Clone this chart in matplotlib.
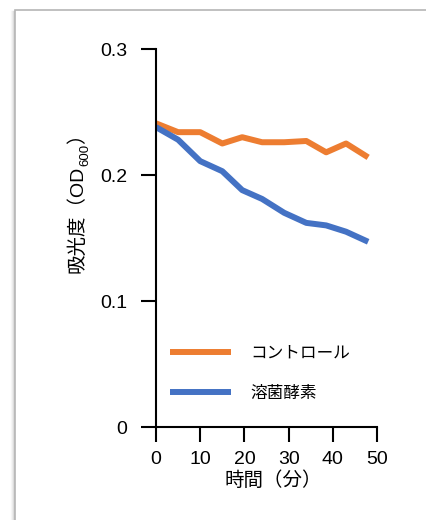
import matplotlib
matplotlib.use("Agg")
import matplotlib.pyplot as plt
from matplotlib.patches import Rectangle
from matplotlib.transforms import offset_copy

plt.rcParams['font.family'] = ['Liberation Sans', 'Noto Sans CJK JP']

# data
minutes = [0, 5, 10, 15, 19.5, 24, 29, 34, 38.5, 43, 48]
control = [0.241, 0.234, 0.234, 0.225, 0.230, 0.226, 0.226, 0.227, 0.218, 0.225, 0.214]
lysozyme = [0.238, 0.228, 0.211, 0.203, 0.188, 0.181, 0.170, 0.162, 0.160, 0.155, 0.147]
series_names = ['コントロール', '溶菌酵素']
series_colors = ['#ED7D31', '#4472C4']
x_ticks = [0, 10, 20, 30, 40, 50]
y_ticks = [0, 0.1, 0.2, 0.3]
y_tick_labels = ['0', '0.1', '0.2', '0.3']
x_title = '時間（分）'
y_title_parts = ['吸光度（OD', '600', '）']

fig = plt.figure(figsize=(4.26, 5.20), dpi=100)

# card frame with a soft shadow on the left (drawn below the axes)
x0 = 15 / 426
y_top = 1 - 10 / 520
for i, a in enumerate([0.35, 0.2, 0.1, 0.05]):
    fig.add_artist(plt.Line2D([x0 - (i + 1) / 426] * 2, [0, y_top - 0.002],
                              color='gray', alpha=a, lw=1, zorder=-10))
fig.add_artist(Rectangle((x0, -0.01), 1.1, y_top + 0.01, transform=fig.transFigure,
                         facecolor='white', edgecolor='#b5b5b5', lw=1.2, zorder=-9))

ax = fig.add_axes([156 / 426, 93 / 520, 221 / 426, 378 / 520])
ax.set_facecolor('none')

for vals, name, col in zip([control, lysozyme], series_names, series_colors):
    ax.plot(minutes, vals, color=col, lw=4.3, label=name, solid_capstyle='butt',
            solid_joinstyle='round')

ax.set_xlim(0, 50)
ax.set_ylim(0, 0.3)
ax.set_xticks(x_ticks)
ax.set_yticks(y_ticks)
ax.set_yticklabels(y_tick_labels)
ax.spines['top'].set_visible(False)
ax.spines['right'].set_visible(False)
for s in ['left', 'bottom']:
    ax.spines[s].set_linewidth(1.5)
ax.tick_params(axis='both', direction='out', length=10.5, width=1.5, labelsize=14)
ax.tick_params(axis='y', pad=10)
ax.tick_params(axis='x', pad=7)

ax.set_xlabel(x_title, fontsize=14)
ax.xaxis.set_label_coords(0.53, -0.117)

# y title with a subscript, built from rotated pieces
fig.canvas.draw()
renderer = fig.canvas.get_renderer()
base_x, base_y = 83, 520 - 273   # pixel position of the start of the baseline
sizes = [14, 9.5, 14]
shifts = [0, 5, 0]
offset = 0
for part, fs, sh in zip(y_title_parts, sizes, shifts):
    tr = offset_copy(fig.transFigure, fig=fig, x=sh, y=offset, units='dots')
    t = fig.text(base_x / 426, base_y / 520, part, fontsize=fs, rotation=90,
                 rotation_mode='anchor', ha='left', va='baseline', transform=tr)
    offset += t.get_window_extent(renderer).height

ax.legend(loc='center left', bbox_to_anchor=(0.062, 0.142), frameon=False,
          fontsize=12, handlelength=3.65, handletextpad=1.2, labelspacing=1.5,
          borderpad=0, borderaxespad=0)

fig.savefig('out.png', dpi=100)
